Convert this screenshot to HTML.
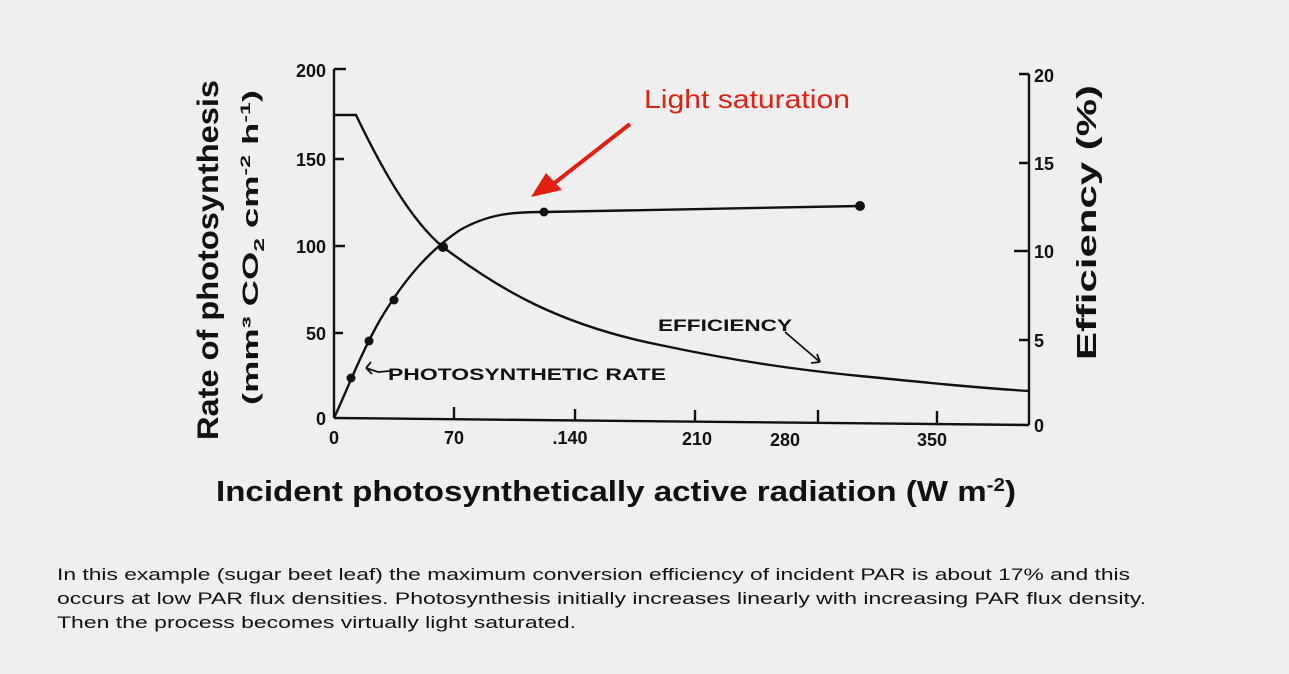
<!DOCTYPE html>
<html><head><style>
html,body{margin:0;padding:0;background:#efefef;}
svg{display:block;font-family:"Liberation Sans",sans-serif;}
</style></head><body>
<svg width="1289" height="674" viewBox="0 0 1289 674" xmlns="http://www.w3.org/2000/svg">
<rect width="1289" height="674" fill="#efefef"/>
<g stroke="#111" fill="none" stroke-width="2.4">
<path d="M334,69 L334,418"/>
<path d="M334,69 L346,69 M334,159 L344,159 M334,246 L345,246 M334,333 L343,333"/>
<path d="M334,418 L1029,425"/>
<path d="M454,419 L454,407 M575,420 L575,409 M695,421 L695,410 M818,422 L818,410 M937,423 L937,411"/>
<path d="M1029,74 L1029,425 M1019,74 L1029,74 M1019,163 L1029,163 M1014,251 L1029,251 M1019,340 L1029,340"/>
<path d="M334,418 C345,395 360,355 380,320 C405,278 430,250 460,230 C490,213 515,212 544,212 L860,206"/>
<path d="M334,115 L356,115 C380,165 410,220 443,247 C500,290 560,325 660,345 C740,362 800,370 860,376 C930,383 980,388 1029,391"/>
<path d="M366,368 L378,372 L390,371 M366,368 L371,362 M366,368 L372,374" stroke-width="1.8"/>
<path d="M785,332 L820,362 M820,362 L811,363 M820,362 L817,354" stroke-width="1.8"/>
</g>
<g fill="#111">
<circle cx="351" cy="378" r="4.5"/><circle cx="369" cy="341" r="4.5"/><circle cx="394" cy="300" r="4.5"/>
<circle cx="443" cy="247" r="5"/><circle cx="544" cy="212" r="4.5"/><circle cx="860" cy="206" r="5"/>
</g>
<g font-size="18" font-weight="bold" fill="#111">
<text x="326" y="77" text-anchor="end">200</text>
<text x="326" y="166" text-anchor="end">150</text>
<text x="326" y="253" text-anchor="end">100</text>
<text x="326" y="340" text-anchor="end">50</text>
<text x="326" y="425" text-anchor="end">0</text>
<text x="334" y="444" text-anchor="middle">0</text>
<text x="454" y="444" text-anchor="middle">70</text>
<text x="570" y="444" text-anchor="middle">.140</text>
<text x="697" y="445" text-anchor="middle">210</text>
<text x="785" y="446" text-anchor="middle">280</text>
<text x="932" y="446" text-anchor="middle">350</text>
<text x="1034" y="82">20</text>
<text x="1034" y="170">15</text>
<text x="1034" y="258">10</text>
<text x="1034" y="347">5</text>
<text x="1034" y="432">0</text>
</g>
<g font-size="17" fill="#111" font-weight="bold">
<text x="388" y="380" textLength="278" lengthAdjust="spacingAndGlyphs">PHOTOSYNTHETIC RATE</text>
<text x="658" y="331" textLength="134" lengthAdjust="spacingAndGlyphs">EFFICIENCY</text>
</g>
<text x="644" y="108" font-size="26" fill="#e02010" textLength="206" lengthAdjust="spacingAndGlyphs">Light saturation</text>
<path d="M630,124 L552,185" stroke="#e02010" stroke-width="4" fill="none"/>
<polygon points="531,197 546,173 562,190" fill="#e02010"/>
<text transform="translate(218,440) rotate(-90)" font-size="30" font-weight="bold" fill="#111" textLength="360" lengthAdjust="spacingAndGlyphs">Rate of photosynthesis</text>
<text transform="translate(258,405) rotate(-90)" font-size="22" font-weight="bold" fill="#111" textLength="315" lengthAdjust="spacingAndGlyphs">(mm³ CO<tspan font-size="15" dy="6">2</tspan><tspan dy="-6"> cm</tspan><tspan font-size="14" dy="-8">-2</tspan><tspan dy="8"> h</tspan><tspan font-size="14" dy="-8">-1</tspan><tspan dy="8">)</tspan></text>
<text transform="translate(1096,360) rotate(-90)" font-size="28" font-weight="bold" fill="#111" textLength="275" lengthAdjust="spacingAndGlyphs">Efficiency (%)</text>
<text x="216" y="501" font-size="29" font-weight="bold" fill="#111" textLength="800" lengthAdjust="spacingAndGlyphs">Incident photosynthetically active radiation  (W m<tspan font-size="18" dy="-10">-2</tspan><tspan dy="10">)</tspan></text>
<g font-size="17" fill="#111">
<text x="57" y="580" textLength="1073" lengthAdjust="spacingAndGlyphs">In this example (sugar beet leaf) the maximum conversion efficiency of incident PAR is about 17% and this</text>
<text x="57" y="604" textLength="1089" lengthAdjust="spacingAndGlyphs">occurs at low PAR flux densities.  Photosynthesis initially increases linearly with increasing  PAR flux density.</text>
<text x="57" y="628" textLength="519" lengthAdjust="spacingAndGlyphs">Then the process becomes virtually light saturated.</text>
</g>
</svg>
</body></html>
